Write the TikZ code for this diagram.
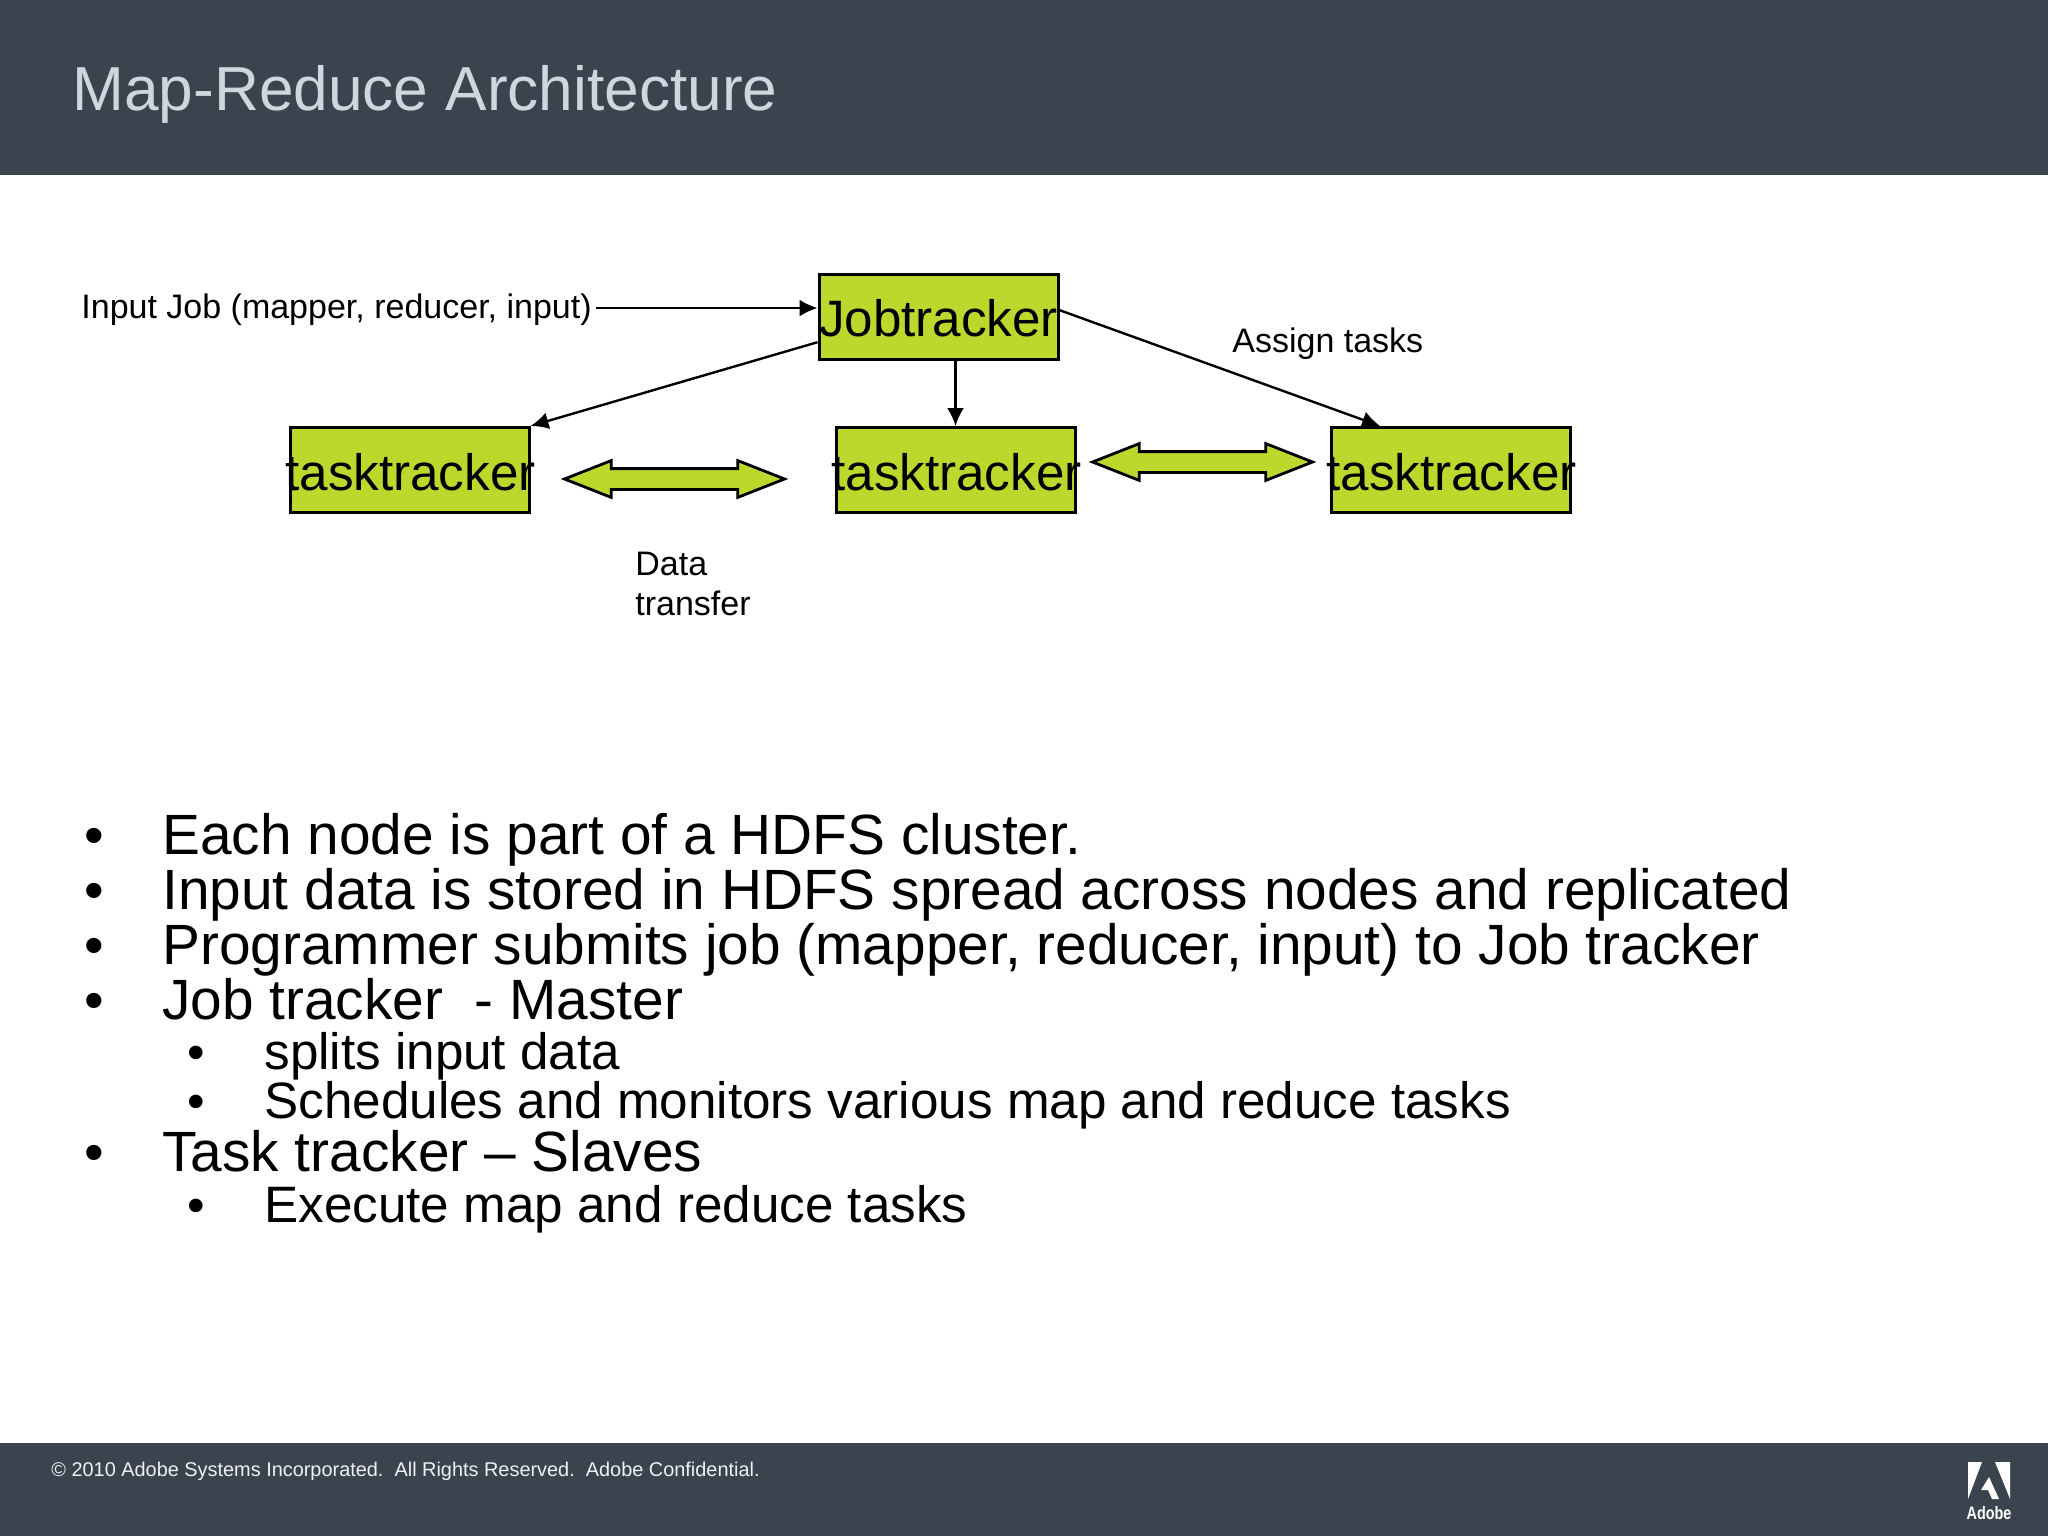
\documentclass[tikz,border=0pt]{standalone}
\usepackage{fontspec}
\setmainfont{Liberation Sans}
\usetikzlibrary{arrows.meta,shapes.arrows}
\definecolor{slate}{HTML}{39444E}
\definecolor{titletext}{HTML}{CDD7E0}
\definecolor{boxgreen}{HTML}{BDD82C}
\tikzset{
  box/.style={draw=black,fill=boxgreen,line width=1.5pt,inner sep=0pt,minimum width=119.5pt,minimum height=42.5pt,
    text height=19.7pt,text depth=0pt,font=\fontsize{25.6}{25}\selectfont},
  worker/.style={box,text height=20.6pt},
  link/.style={line width=1.2pt,-{Latex[length=9pt,width=8.5pt]}},
  swap/.style={double arrow,draw=black,fill=boxgreen,line width=1.4pt,inner sep=4.5pt,minimum width=17pt,
    minimum height=110pt,double arrow head extend=4pt,double arrow tip angle=43,shape border rotate=0},
  small/.style={inner sep=0pt,anchor=base west,font=\fontsize{17}{20}\selectfont},
  big/.style={inner sep=0pt,anchor=base west,font=\fontsize{28.4}{28}\selectfont},
  sub/.style={inner sep=0pt,anchor=base west,font=\fontsize{25.6}{25}\selectfont},
  bigdot/.style={inner sep=0pt,anchor=base,font=\fontsize{28}{28}\selectfont},
  subdot/.style={inner sep=0pt,anchor=base,font=\fontsize{25}{25}\selectfont},
}
\begin{document}
\begin{tikzpicture}[x=0.5pt,y=-0.5pt]
  \useasboundingbox (0,0) rectangle (2048,1536);
  \fill[white] (0,0) rectangle (2048,1536);
  % bands
  \fill[slate] (0,0) rectangle (2048,175);
  \fill[slate] (0,1443) rectangle (2048,1536);
  \node[inner sep=0pt,anchor=base west,text=titletext,font=\fontsize{31.1}{30}\selectfont] (title) at (72,111) {Map-Reduce Architecture};
  \node[inner sep=0pt,anchor=base west,text=white!92!slate,font=\fontsize{9.95}{10}\selectfont] (foot) at (51,1476) {© 2010 Adobe Systems Incorporated.\ \ All Rights Reserved.\ \ Adobe Confidential.};

  % diagram
  \node[box] (job) at (938.5,316.5) {\makebox[0pt]{Jobtracker}};
  \node[worker] (t1) at (409.5,470) {\makebox[0pt]{\hspace{1pt}tasktracker}};
  \node[worker] (t2) at (955.5,470) {\makebox[0pt]{\hspace{1pt}tasktracker}};
  \node[worker] (t3) at (1450.5,470) {\makebox[0pt]{\hspace{1pt}tasktracker}};
  \node[small] (input) at (81,318) {Input Job (mapper, reducer, input)};
  \node[small] (assign) at (1232,352) {Assign tasks};
  \node[small,align=left] (data) at (635,615) {Data\\transfer};
  \node[swap] (d1) at (674.5,479) {};
  \node[swap] (d2) at (1202.5,462) {};

  \draw[link] ([xshift=2pt]input.east |- job.176) -- (job.176);
  \draw[link] (job.192.7) -- (t1.north east);
  \draw[link] (job.south -| t2.north) -- (t2.north);
  \draw[link] (job.3.8) -- (t3.148.6);

  % bullets
  \node[bigdot] (b1) at (94,854) {•};
  \node[big] (l1) at (162,854) {Each node is part of a HDFS cluster.};
  \node[bigdot] (b2) at (94,909) {•};
  \node[big] (l2) at (162,909) {Input data is stored in HDFS spread across nodes and replicated};
  \node[bigdot] (b3) at (94,964) {•};
  \node[big] (l3) at (162,964) {Programmer submits job (mapper, reducer, input) to Job tracker};
  \node[bigdot] (b4) at (94,1019) {•};
  \node[big] (l4) at (162,1019) {Job tracker\ \ - Master};
  \node[subdot] (b5) at (196,1069) {•};
  \node[sub] (l5) at (264,1069) {splits input data};
  \node[subdot] (b6) at (196,1118) {•};
  \node[sub] (l6) at (264,1118) {Schedules and monitors various map and reduce tasks};
  \node[bigdot] (b7) at (94,1171) {•};
  \node[big] (l7) at (162,1171) {Task tracker – Slaves};
  \node[subdot] (b8) at (196,1222) {•};
  \node[sub] (l8) at (264,1222) {Execute map and reduce tasks};

  % logo
  \fill[white] (1968,1462) -- (1982,1462) -- (1968,1499) -- cycle;
  \fill[white] (1995,1462) -- (2010,1462) -- (2010,1499) -- cycle;
  \fill[white] (1989,1477) -- (1999,1499) -- (1992,1499) -- (1988,1490) -- (1981,1490) -- cycle;
  \node[inner sep=0pt,anchor=base,text=white,font=\bfseries\fontsize{9}{9}\selectfont] (adobe) at (1989,1519) {\scalebox{0.8}[1]{Adobe}};
\end{tikzpicture}
\end{document}
